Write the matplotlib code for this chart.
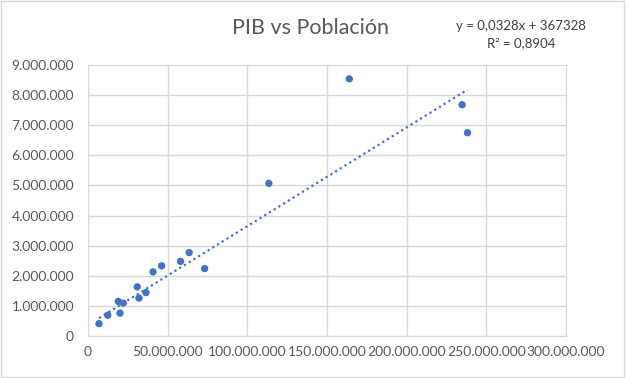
import numpy as np
import matplotlib.pyplot as plt
from matplotlib.ticker import FuncFormatter

# Datos: población (x) y PIB (y)
poblacion = [6.9e6, 12.4e6, 19.0e6, 20.1e6, 22.2e6, 30.9e6, 32.0e6, 36.4e6,
             40.8e6, 46.2e6, 58.1e6, 63.5e6, 73.2e6, 113.5e6, 164.0e6,
             234.8e6, 238.2e6]
pib = [0.41e6, 0.69e6, 1.15e6, 0.76e6, 1.09e6, 1.63e6, 1.26e6, 1.44e6,
       2.13e6, 2.33e6, 2.48e6, 2.77e6, 2.24e6, 5.07e6, 8.54e6,
       7.68e6, 6.75e6]

# Línea de tendencia (según la ecuación mostrada)
pendiente = 0.0328
intercepto = 367328

azul = "#4472C4"
gris = "#595959"
rejilla = "#d9d9d9"

plt.rcParams['font.family'] = ['Lato', 'DejaVu Sans']

fig = plt.figure(figsize=(6.26, 3.78), dpi=100)
ax = fig.add_axes([88/626, 1-336/378, (566-88)/626, (336-65)/378])

ax.scatter(poblacion, pib, s=28, color=azul, zorder=3, edgecolors='none')

xt = np.array([min(poblacion), max(poblacion)])
ax.plot(xt, pendiente*xt + intercepto, linestyle=(0, (1, 1.5)), color=azul,
        linewidth=1.6, zorder=2)

ax.set_xlim(0, 300e6)
ax.set_ylim(0, 9e6)
ax.set_xticks(np.arange(0, 300e6 + 1, 50e6))
ax.set_yticks(np.arange(0, 9e6 + 1, 1e6))

def miles(v, pos):
    return f"{int(round(v)):,}".replace(",", ".")

ax.xaxis.set_major_formatter(FuncFormatter(miles))
ax.yaxis.set_major_formatter(FuncFormatter(miles))
ax.tick_params(length=0, labelsize=10, labelcolor=gris)
ax.tick_params(axis='y', pad=10)
ax.tick_params(axis='x', pad=7)
ax.grid(True, color=rejilla, linewidth=1)
ax.set_axisbelow(True)
for s in ax.spines.values():
    s.set_color(rejilla)

fig.text(311/626, 1-28/378, "PIB vs Población", ha='center', va='center',
         fontsize=15.5, color=gris)
fig.text(521/626, 1-26/378, "y = 0,0328x + 367328", ha='center',
         va='center', fontsize=9.5, color="#404040")
fig.text(521/626, 1-43/378, "R² = 0,8904", ha='center', va='center',
         fontsize=9.5, color="#404040")

fig.patches.append(plt.Rectangle((0.002, 0.003), 0.995, 0.994,
                                 transform=fig.transFigure, fill=False,
                                 edgecolor=rejilla, linewidth=1))

fig.savefig("out.png", dpi=100)
